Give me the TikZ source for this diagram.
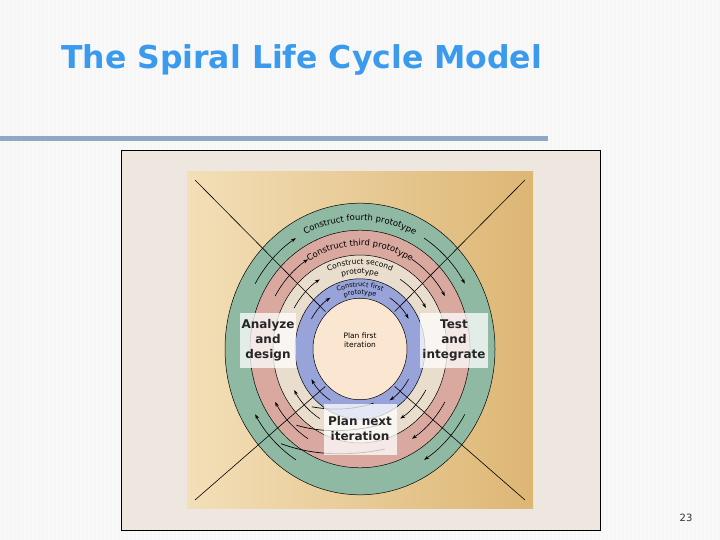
\documentclass[tikz,border=0pt]{standalone}
\usepackage{fontspec}
\setmainfont{DejaVu Sans}
\usetikzlibrary{decorations.text,arrows.meta}
\definecolor{ttl}{HTML}{3A9AEE}
\definecolor{barc}{HTML}{8FA8C6}
\definecolor{frame}{HTML}{EEE7DF}
\definecolor{gr}{HTML}{8FB9A2}
\definecolor{pk}{HTML}{D9A9A0}
\definecolor{bg}{HTML}{E9DDCD}
\definecolor{bl}{HTML}{97A3D9}
\definecolor{cn}{HTML}{FBE6D2}
\definecolor{tanl}{HTML}{F3DFB8}
\definecolor{tanr}{HTML}{DDB674}
\tikzset{
  lbl/.style={fill=white,fill opacity=0.75,text opacity=1,font=\bfseries\fontsize{12}{15}\selectfont,align=center,inner sep=2pt,text=black!85},
  ring/.style={draw=black,line width=0.5pt},
  arr/.style={-{Stealth[length=5pt,width=3.5pt]},line width=0.6pt},
  ctext/.style={decorate,decoration={text along path,text align=center,text={#1}}}
}
\begin{document}
\begin{tikzpicture}[x=1pt,y=-1pt]
\useasboundingbox (0,0) rectangle (720,540);
\fill[gray!7] (0,0) rectangle (720,540);
\foreach \i in {0,...,180}{\fill[white,opacity=0.4] (4*\i,0) rectangle (4*\i+2,540);}
\foreach \i/\o in {0/30,8/25,16/20,24/15,32/10,40/6}{\fill[gray,opacity=0.\o*0.01] (\i,0) rectangle (\i+5,540);}
\node[anchor=west,text=ttl,font=\bfseries\fontsize{31.5}{35}\selectfont,inner sep=0] (title) at (61,60) {The Spiral Life Cycle Model};
\fill[barc] (0,136) rectangle (548,141);
\node[draw=black,fill=frame,minimum width=479pt,minimum height=380pt,anchor=north west,inner sep=0] (frm) at (121,150) {};
\shade[left color=tanl,right color=tanr] (187,172) rectangle (533,508);
\coordinate (tl) at (195,180); \coordinate (br) at (525,500);
\coordinate (tr) at (525,180); \coordinate (bl) at (195,500);
\begin{scope}[shift={(360,349)},yscale=-1.08]
  \fill[gr] (0,0) circle[radius=135];
  \fill[pk] (0,0) circle[radius=110];
  \fill[bg] (0,0) circle[radius=87];
  \fill[bl] (0,0) circle[radius=65];
  \foreach \r in {135,110,87,65} \draw[ring] (0,0) circle[radius=\r];
  \coordinate (ctl) at (135:49); \coordinate (ctr) at (45:49);
  \coordinate (cbl) at (-135:49); \coordinate (cbr) at (-45:49);
\end{scope}
\draw[line width=0.6pt] (tl) -- (ctl);
\draw[line width=0.6pt] (tr) -- (ctr);
\draw[line width=0.6pt] (bl) -- (cbl);
\draw[line width=0.6pt] (br) -- (cbr);
\begin{scope}[shift={(360,349)},yscale=-1.08]
  \fill[cn] (0,0) circle[radius=47];
  \draw[ring] (0,0) circle[radius=47];
  \foreach \r in {121,98,76,56}{
    \draw[arr] (150:\r) arc[start angle=150,end angle=122,radius=\r];
    \draw[arr] (58:\r) arc[start angle=58,end angle=30,radius=\r];
    \draw[arr] (-30:\r) arc[start angle=-30,end angle=-58,radius=\r];
    \draw[arr] (-122:\r) arc[start angle=-122,end angle=-150,radius=\r];
  }
  \foreach \r/\s in {52/72,73/95,96/118}{
    \draw[line width=0.7pt] (-75:\r) .. controls (-100:\r+6) and (-118:\s-8) .. (-132:\s);
  }
  \path[ctext={|\fontsize{8.5}{10}\selectfont|Construct fourth prototype}] (132:119) arc[start angle=132,end angle=48,radius=119];
  \path[ctext={|\fontsize{8.5}{10}\selectfont|Construct third prototype}] (128:95.5) arc[start angle=128,end angle=52,radius=95.5];
  \path[ctext={|\fontsize{7.5}{9}\selectfont|Construct second}] (122:78.5) arc[start angle=122,end angle=58,radius=78.5];
  \path[ctext={|\fontsize{7.5}{9}\selectfont|prototype}] (112:69.5) arc[start angle=112,end angle=68,radius=69.5];
  \path[ctext={|\fontsize{6.5}{8}\selectfont|Construct first}] (125:57.5) arc[start angle=125,end angle=55,radius=57.5];
  \path[ctext={|\fontsize{6.5}{8}\selectfont|prototype}] (115:50.5) arc[start angle=115,end angle=65,radius=50.5];
\end{scope}
\node[font=\fontsize{7.5}{9}\selectfont,align=center] (c) at (360,340) {Plan first\\iteration};
\node[lbl,minimum width=56pt,minimum height=55pt] (ad) at (268,340) {Analyze\\and\\design};
\node[lbl,minimum width=61pt,minimum height=55pt] (ti) at (454,340) {Test\\and\\integrate};
\node[lbl,minimum width=73pt,minimum height=51pt] (pn) at (360,429) {Plan next\\iteration};
\node[font=\fontsize{10}{12}\selectfont,text=black!80] (pg) at (686,518) {23};
\end{tikzpicture}
\end{document}
